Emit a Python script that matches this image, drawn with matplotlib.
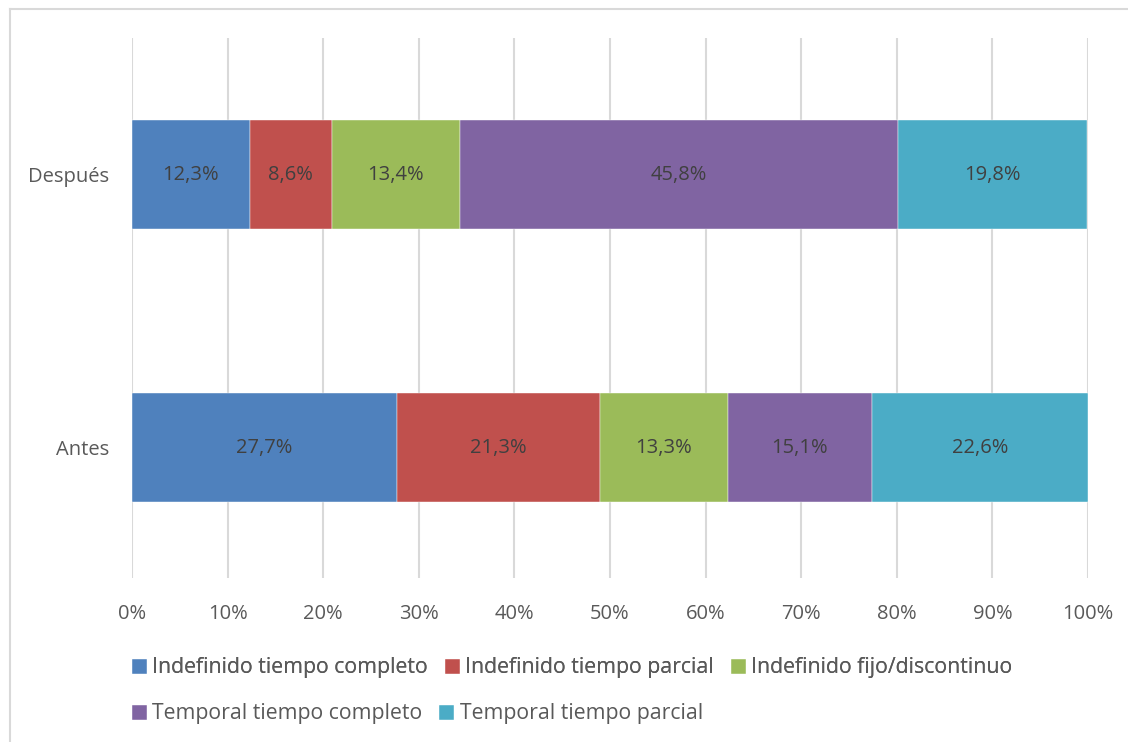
import matplotlib.pyplot as plt
from matplotlib.lines import Line2D

plt.rcParams['font.family'] = ['Open Sans', 'DejaVu Sans']

categorias = ["Antes", "Después"]
series = ["Indefinido tiempo completo", "Indefinido tiempo parcial",
          "Indefinido fijo/discontinuo", "Temporal tiempo completo",
          "Temporal tiempo parcial"]
indef_completo = [27.7, 12.3]
indef_parcial = [21.3, 8.6]
indef_fijo = [13.3, 13.4]
temp_completo = [15.1, 45.8]
temp_parcial = [22.6, 19.8]
colores = ["#4F81BD", "#C0504D", "#9BBB59", "#8064A2", "#4BACC6"]
ticks_x = [0, 10, 20, 30, 40, 50, 60, 70, 80, 90, 100]

valores = [indef_completo, indef_parcial, indef_fijo, temp_completo, temp_parcial]

fig = plt.figure(figsize=(11.28, 7.42), dpi=100)
ax = fig.add_axes([132 / 1128, 1 - 578 / 742, (1088 - 132) / 1128, 540 / 742])

pos = [0, 1]
izq = [0, 0]
barras = []
for nombre, vals, col in zip(series, valores, colores):
    b = ax.barh(pos, vals, left=izq, height=0.4, color=col, label=nombre,
                edgecolor="white", linewidth=0.3, zorder=3)
    ax.bar_label(b, labels=[f"{v:.1f}%".replace(".", ",") for v in vals],
                 label_type="center", color="#404040", fontsize=14.5)
    barras.append(b)
    izq = [a + v for a, v in zip(izq, vals)]

ax.set_xlim(0, 100)
ax.set_ylim(-0.478, 1.5)
ax.set_xticks(ticks_x)
ax.set_xticklabels([f"{t}%" for t in ticks_x])
ax.set_yticks(pos)
ax.set_yticklabels(categorias)
ax.tick_params(length=0, labelsize=14.5, colors="#595959")
ax.tick_params(axis="x", pad=19)
ax.tick_params(axis="y", pad=16.5)
ax.grid(axis="x", color="#D9D9D9", linewidth=1.5, zorder=0)
for s in ax.spines.values():
    s.set_visible(False)

# marco del grafico
fig.add_artist(Line2D([10 / 1128, 10 / 1128], [0, 1 - 9 / 742], color="#D9D9D9", lw=1.5))
fig.add_artist(Line2D([10 / 1128, 1], [1 - 9 / 742, 1 - 9 / 742], color="#D9D9D9", lw=1.5))

leg_kw = dict(frameon=False, handlelength=0.7, handleheight=0.7, handletextpad=0.25,
              columnspacing=0.8, fontsize=15.3, labelcolor="#595959", borderaxespad=0,
              borderpad=0, loc="center left")
l1 = fig.legend(barras[:3], series[:3], ncol=3, bbox_to_anchor=(132 / 1128, 1 - 668 / 742), **leg_kw)
fig.add_artist(l1)
fig.legend(barras[3:], series[3:], ncol=2, bbox_to_anchor=(132 / 1128, 1 - 714 / 742), **leg_kw)

fig.savefig("out.png", dpi=100, facecolor="white")
